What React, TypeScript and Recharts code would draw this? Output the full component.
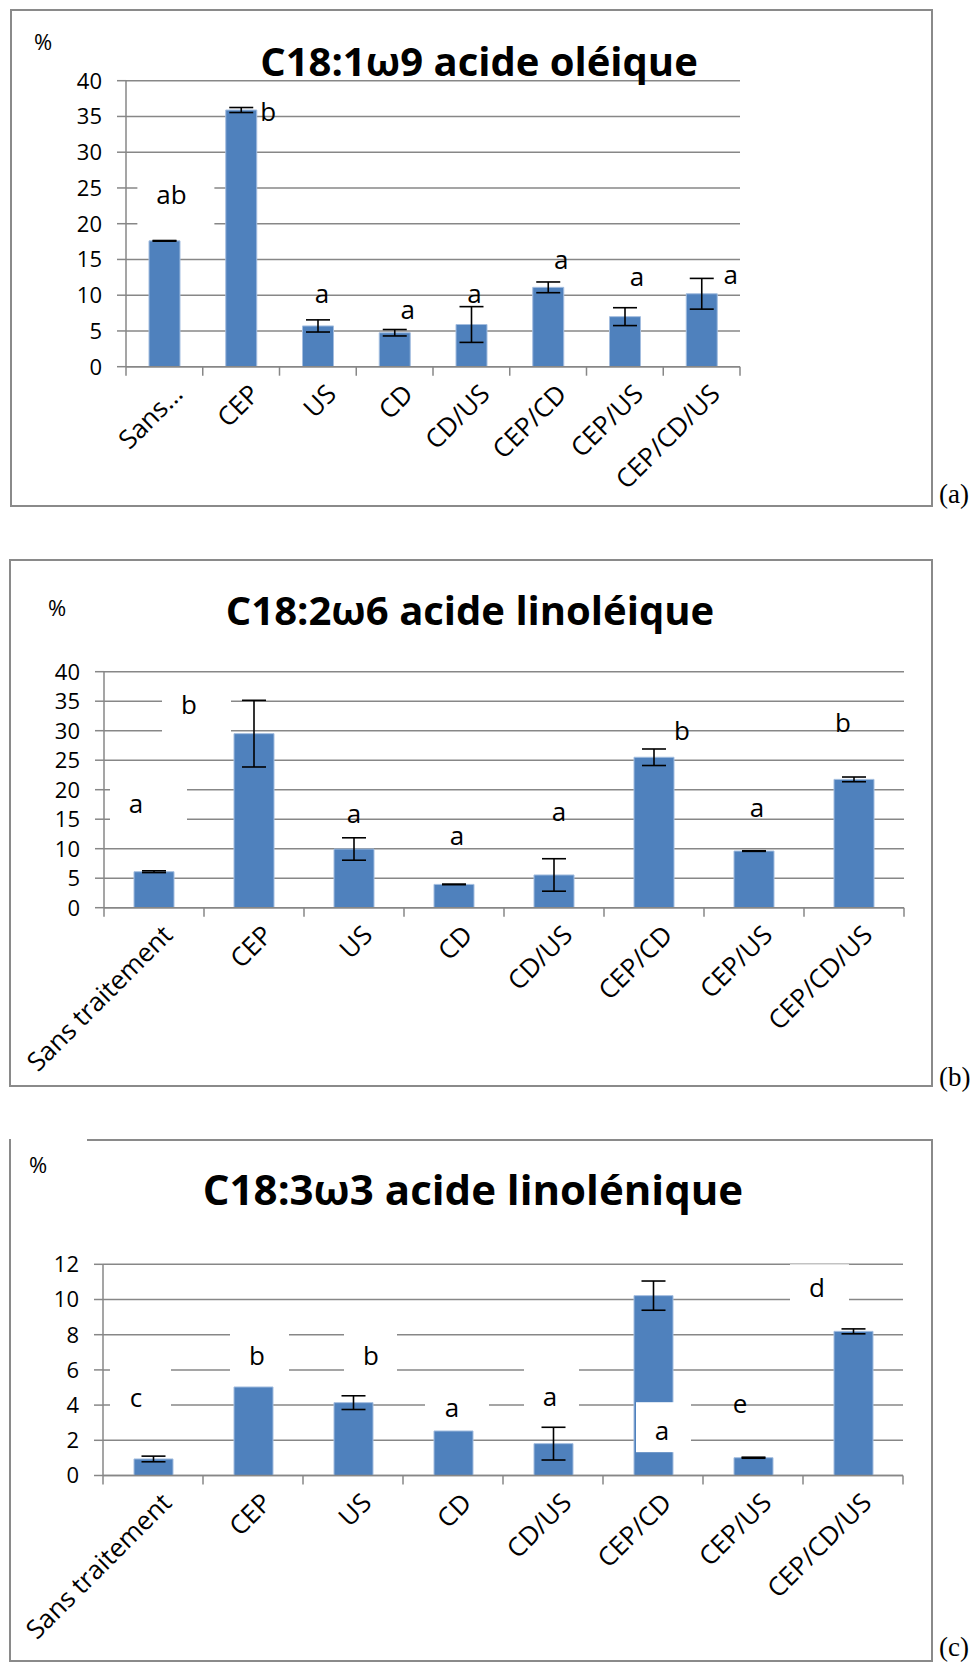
import React from 'react';
import { ComposedChart, Bar, ErrorBar, Scatter, XAxis, YAxis, CartesianGrid } from 'recharts';

const FONT = "'Open Sans', 'DejaVu Sans', sans-serif";
const GRID = '#878787';
const BAR = '#4f81bd';

const treatments = ['Sans traitement', 'CEP', 'US', 'CD', 'CD/US', 'CEP/CD', 'CEP/US', 'CEP/CD/US'];

// C18:1ω9 acide oléique (%)
const oleicMean = [17.6, 35.9, 5.7, 4.75, 5.9, 11.1, 7.0, 10.2];
const oleicSd = [0.05, 0.35, 0.85, 0.45, 2.5, 0.75, 1.25, 2.15];
const oleicLetters = ['ab', 'b', 'a', 'a', 'a', 'a', 'a', 'a'];
const oleicLetterAt = [23.8, 35.4, 10.0, 7.7, 10.0, 14.7, 12.4, 12.6];
const oleicTicks = [0, 5, 10, 15, 20, 25, 30, 35, 40];

// C18:2ω6 acide linoléique (%)
const linoleicMean = [6.1, 29.5, 9.95, 3.95, 5.55, 25.5, 9.6, 21.75];
const linoleicSd = [0.15, 5.65, 1.9, 0.05, 2.75, 1.4, 0.05, 0.4];
const linoleicLetters = ['a', 'b', 'a', 'a', 'a', 'b', 'a', 'b'];
const linoleicLetterAt = [17.3, 34.1, 15.7, 12.0, 16.1, 29.7, 16.7, 31.1];
const linoleicTicks = [0, 5, 10, 15, 20, 25, 30, 35, 40];

// C18:3ω3 acide linolénique (%)
const linolenicMean = [0.94, 5.03, 4.14, 2.53, 1.81, 10.22, 1.01, 8.19];
const linolenicSd = [0.16, null, 0.39, null, 0.93, 0.83, 0.03, 0.14];
const linolenicLetters = ['c', 'b', 'b', 'a', 'a', 'a', 'e', 'd'];
const linolenicLetterAt = [4.33, 6.72, 6.72, 3.76, 4.39, 2.46, 3.97, 10.58];
const linolenicTicks = [0, 2, 4, 6, 8, 10, 12];

// letter placement (px shift from bar centre) and white text-box extents [x0, x1, y0, y1]
const oleicDx = [7, 27, 4, 13, 3, 13, 12, 29];
const oleicBoxes = [[-34, 43, -12, 30], null, null, null, null, null, null, null];
const linoleicDx = [-18, -65, 0, 3, 5, 28, 3, -11];
const linoleicBoxes = [[-26, 51, -22, 20], [-27, 42, -10, 28], null, null, null, null, null, null];
const linolenicDx = [-17, 4, 18, -1, -3, 9, -13, -36];
const linolenicBoxes = [
  [-26, 35, -36, 14], [-27, 32, -30, 20], [-27, 26, -30, 20], [-27, 37, -18, 18],
  [-26, 29, -34, 16], [-26, 29, -30, 20], null, [-27, 32, -32, 20],
];

type Row = { name: string; mean: number; sd: number | null; letter: string; at: number; i: number };

const makeRows = (mean: number[], sd: (number | null)[], letters: string[], at: number[]): Row[] =>
  treatments.map((name, i) => ({ name, mean: mean[i], sd: sd[i], letter: letters[i], at: at[i], i }));

type Plot = { left: number; right: number; top: number; bottom: number };

interface PanelProps {
  rows: Row[];
  ticks: number[];
  top: number;
  height: number;
  plot: Plot;
  xAxisHeight: number;
  barSize: number;
  dx: number[];
  boxes: (number[] | null)[];
  shortLabels?: boolean;
}

const Panel = ({ rows, ticks, top, height, plot, xAxisHeight, barSize, dx, boxes, shortLabels }: PanelProps) => {
  const yAxisWidth = 60;
  const band = (plot.right - plot.left) / rows.length;
  const margin = {
    top: plot.top - top,
    right: 976 - plot.right,
    left: plot.left - yAxisWidth,
    bottom: height - (plot.bottom - top) - xAxisHeight,
  };

  const renderTick = (p: any) => {
    const { x, y, payload, index } = p;
    let label: string = payload.value;
    if (shortLabels && label.length > 12) label = label.split(' ')[0] + '...';
    return (
      <g transform={`translate(${x},${y})`}>
        <line x1={-band / 2} x2={-band / 2} y1={0} y2={9} stroke={GRID} strokeWidth={1.5} />
        {index === rows.length - 1 && (
          <line x1={band / 2} x2={band / 2} y1={0} y2={9} stroke={GRID} strokeWidth={1.5} />
        )}
        <text
          x={20}
          y={29}
          transform="rotate(-45, 20, 29)"
          textAnchor="end"
          fontSize={26}
          fontFamily={FONT}
          fill="#000"
        >
          {label}
        </text>
      </g>
    );
  };

  const renderLetter = (p: any) => {
    const { cx, cy, payload } = p;
    if (cx == null || cy == null) return <g />;
    const tx = cx + dx[payload.i];
    const box = boxes[payload.i];
    return (
      <g>
        {box && (
          <rect x={tx + box[0]} y={cy + box[2]} width={box[1] - box[0]} height={box[3] - box[2]} fill="#fff" />
        )}
        <text x={tx} y={cy} dy="0.3em" textAnchor="middle" fontSize={26} fontFamily={FONT} fill="#000">
          {payload.letter}
        </text>
      </g>
    );
  };

  return (
    <div style={{ position: 'absolute', left: 0, top, width: 976, height }}>
      <ComposedChart width={976} height={height} data={rows} margin={margin}>
        <CartesianGrid vertical={false} stroke={GRID} strokeWidth={1.5} />
        <XAxis
          dataKey="name"
          interval={0}
          height={xAxisHeight}
          tickLine={false}
          tickSize={0}
          tickMargin={0}
          axisLine={{ stroke: GRID, strokeWidth: 1.5 }}
          tick={renderTick}
        />
        <YAxis
          domain={[0, ticks[ticks.length - 1]]}
          ticks={ticks}
          interval={0}
          width={yAxisWidth}
          tickSize={9}
          tickMargin={15}
          tickLine={{ stroke: GRID, strokeWidth: 1.5 }}
          axisLine={{ stroke: GRID, strokeWidth: 1.5 }}
          tick={{ fill: '#000', fontSize: 22, fontFamily: FONT }}
          allowDataOverflow
        />
        <Bar dataKey="mean" fill={BAR} stroke="#a3bddf" strokeWidth={1} barSize={barSize} isAnimationActive={false}>
          <ErrorBar dataKey="sd" width={12} stroke="#000" strokeWidth={1.6} direction="y" isAnimationActive={false} />
        </Bar>
        <Scatter dataKey="at" isAnimationActive={false} shape={renderLetter} />
      </ComposedChart>
    </div>
  );
};

const frame = (left: number, top: number, right: number, bottom: number, extra: React.CSSProperties = {}) => (
  <div
    style={{
      position: 'absolute',
      left,
      top,
      width: right - left,
      height: bottom - top,
      border: '2px solid #8a8a8a',
      boxSizing: 'border-box',
      ...extra,
    }}
  />
);

const titleStyle = (left: number, top: number, size: number): React.CSSProperties => ({
  position: 'absolute',
  left,
  top,
  transform: 'translateX(-50%)',
  whiteSpace: 'nowrap',
  fontFamily: FONT,
  fontWeight: 700,
  fontSize: size,
  lineHeight: 1,
  color: '#000',
});

const pctStyle = (left: number, top: number): React.CSSProperties => ({
  position: 'absolute',
  left,
  top,
  fontFamily: FONT,
  fontSize: 22,
  lineHeight: 1,
  color: '#000',
});

const tagStyle = (top: number): React.CSSProperties => ({
  position: 'absolute',
  left: 939,
  top,
  fontFamily: "'Liberation Serif', 'Times New Roman', serif",
  fontSize: 27,
  lineHeight: 1,
  color: '#000',
});

export default function App() {
  return (
    <div style={{ position: 'absolute', left: 0, top: 0, width: 976, height: 1666, background: '#fff', overflow: 'hidden' }}>
      {frame(10, 9, 933, 507)}
      {frame(9, 559, 933, 1087)}
      {frame(9, 1139, 933, 1662, { borderTop: 'none' })}
      <div style={{ position: 'absolute', left: 87, top: 1139, width: 846, height: 2, background: '#8a8a8a' }} />

      <Panel
        rows={makeRows(oleicMean, oleicSd, oleicLetters, oleicLetterAt)}
        ticks={oleicTicks}
        top={0}
        height={510}
        plot={{ left: 126, right: 740, top: 80.7, bottom: 366.7 }}
        xAxisHeight={100}
        barSize={31}
        dx={oleicDx}
        boxes={oleicBoxes}
        shortLabels
      />
      <Panel
        rows={makeRows(linoleicMean, linoleicSd, linoleicLetters, linoleicLetterAt)}
        ticks={linoleicTicks}
        top={530}
        height={560}
        plot={{ left: 104, right: 904, top: 671.7, bottom: 907.7 }}
        xAxisHeight={120}
        barSize={40}
        dx={linoleicDx}
        boxes={linoleicBoxes}
      />
      <Panel
        rows={makeRows(linolenicMean, linolenicSd, linolenicLetters, linolenicLetterAt)}
        ticks={linolenicTicks}
        top={1120}
        height={546}
        plot={{ left: 103, right: 903, top: 1264.3, bottom: 1475.5 }}
        xAxisHeight={120}
        barSize={39}
        dx={linolenicDx}
        boxes={linolenicBoxes}
      />

      <div style={titleStyle(479, 40.5, 40)}>C18:1ω9 acide oléique</div>
      <div style={titleStyle(470, 589.5, 40)}>C18:2ω6 acide linoléique</div>
      <div style={titleStyle(473, 1168, 42)}>C18:3ω3 acide linolénique</div>

      <div style={pctStyle(34, 30)}>%</div>
      <div style={pctStyle(48, 596)}>%</div>
      <div style={pctStyle(29, 1153)}>%</div>

      <div style={tagStyle(481)}>(a)</div>
      <div style={tagStyle(1064)}>(b)</div>
      <div style={tagStyle(1634)}>(c)</div>
    </div>
  );
}
